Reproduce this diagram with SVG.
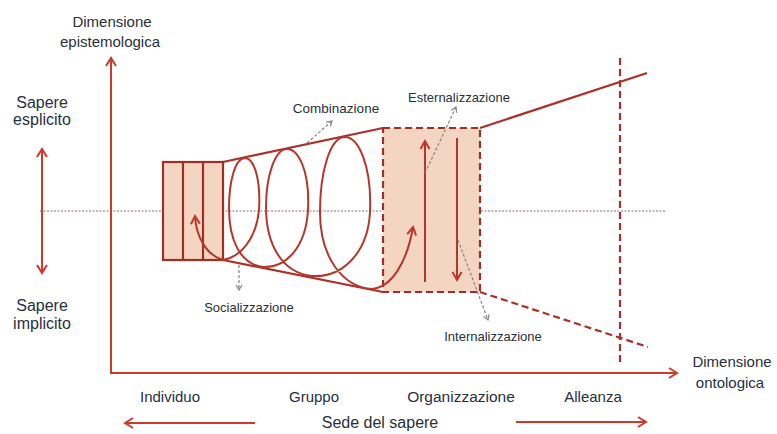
<svg xmlns="http://www.w3.org/2000/svg" width="777" height="434" viewBox="0 0 777 434">
<defs>
<marker id="chev" markerUnits="userSpaceOnUse" markerWidth="14" markerHeight="14" viewBox="0 0 14 14" refX="11" refY="7" orient="auto-start-reverse">
<path d="M3,2 L11,7 L3,12" fill="none" stroke="#cc3b2a" stroke-width="2"/>
</marker>
<marker id="chevD" markerUnits="userSpaceOnUse" markerWidth="14" markerHeight="14" viewBox="0 0 14 14" refX="11" refY="7" orient="auto-start-reverse">
<path d="M3,2.5 L11,7 L3,11.5" fill="none" stroke="#c0392b" stroke-width="2"/>
</marker>
<marker id="gchev" markerUnits="userSpaceOnUse" markerWidth="10" markerHeight="10" viewBox="0 0 10 10" refX="8" refY="5" orient="auto">
<path d="M3,2 L8,5 L3,8" fill="none" stroke="#8a8088" stroke-width="1.2"/>
</marker>
</defs>
<style>
text{font-family:"Liberation Sans",Arial,sans-serif;fill:#27303c}
.lbl{font-size:15px;text-anchor:middle}
.sm{font-size:13px;text-anchor:middle}
.axis{stroke:#cc3b2a;stroke-width:2;fill:none}
.box{fill:#f3d5c2;stroke:#9e2f26;stroke-width:2.2}
.dbox{fill:#f3d5c2;stroke:#9e2f26;stroke-width:2.2;stroke-dasharray:7 4}
.edge{stroke:#a8322a;stroke-width:2.2;fill:none}
.dedge{stroke:#a8322a;stroke-width:2.2;fill:none;stroke-dasharray:7 4}
.spiral{stroke:#b5372c;stroke-width:2;fill:none}
.call{stroke:#8a8088;stroke-width:1.2;fill:none;stroke-dasharray:3 2}
.dot{stroke:#8c6c78;stroke-width:1;stroke-dasharray:2 1.5;fill:none}
</style>
<rect width="777" height="434" fill="#ffffff"/>

<g id="midline"><line class="dot" x1="40" y1="211" x2="665" y2="211"/></g>

<g id="node-individuo">
<rect class="box" x="163" y="162" width="60" height="98"/>
<line class="box" x1="183" y1="162" x2="183" y2="260"/>
<line class="box" x1="203" y1="162" x2="203" y2="260"/>
</g>

<g id="node-organizzazione">
<rect class="dbox" x="383" y="128" width="97" height="164"/>
</g>

<g id="node-cone">
<line class="edge" x1="223" y1="162" x2="383" y2="128"/>
<line class="edge" x1="223" y1="260" x2="383" y2="292"/>
<line class="edge" x1="480" y1="128" x2="647" y2="73"/>
<line class="dedge" x1="480" y1="292" x2="648" y2="347"/>
<line class="dedge" x1="620" y1="58" x2="620" y2="362"/>
</g>

<g id="connectors">
<line class="axis" x1="111" y1="374" x2="111" y2="58" marker-end="url(#chev)"/>
<line class="axis" x1="111" y1="373" x2="677" y2="373" marker-end="url(#chev)"/>
<line class="axis" x1="42" y1="149" x2="42" y2="273" marker-start="url(#chev)" marker-end="url(#chev)"/>
<path class="spiral" marker-start="url(#chevD)" marker-end="url(#chevD)" d="M195,216 C196,236 206,255 223,260 C240,257 256,240 259,210 C261,176 253,158 245,158 C235,158 229,182 229,208 C229,240 240,264 263,267 C287,268 306,246 308,210 C310,170 298,149 287,149 C275,149 266,176 266,207 C266,246 283,273 312,276 C343,278 368,252 370,212 C372,165 358,137 345,137 C330,137 320,172 320,212 C320,258 343,287 372,289 C392,287 407,262 413,227"/>
<line class="spiral" x1="425" y1="282" x2="425" y2="141" marker-end="url(#chevD)"/>
<line class="spiral" x1="457" y1="138" x2="457" y2="280" marker-end="url(#chevD)"/>
<line class="call" x1="307" y1="143" x2="332" y2="121" marker-end="url(#gchev)"/>
<line class="call" x1="239" y1="265" x2="239" y2="290" marker-end="url(#gchev)"/>
<line class="call" x1="425" y1="173" x2="456" y2="107" marker-end="url(#gchev)"/>
<line class="call" x1="458" y1="240" x2="488" y2="320" marker-end="url(#gchev)"/>
<line class="axis" x1="255" y1="423" x2="125" y2="423" marker-end="url(#chev)"/>
<line class="axis" x1="516" y1="422" x2="646" y2="422" marker-end="url(#chev)"/>
</g>

<g id="labels">
<text class="lbl" x="112" y="27">Dimensione</text>
<text class="lbl" x="110" y="47">epistemologica</text>
<text class="lbl" x="42" y="108" style="font-size:16px">Sapere</text>
<text class="lbl" x="42" y="125" style="font-size:16px">esplicito</text>
<text class="lbl" x="42" y="311" style="font-size:16px">Sapere</text>
<text class="lbl" x="42" y="329" style="font-size:16px">implicito</text>
<text class="sm" x="336" y="113" style="font-size:13.5px">Combinazione</text>
<text class="sm" x="249" y="312">Socializzazione</text>
<text class="sm" x="459" y="102">Esternalizzazione</text>
<text class="sm" x="493" y="341">Internalizzazione</text>
<text class="lbl" x="732" y="367">Dimensione</text>
<text class="lbl" x="730" y="388">ontologica</text>
<text class="lbl" x="170" y="402">Individuo</text>
<text class="lbl" x="314" y="402">Gruppo</text>
<text class="lbl" x="461" y="402" style="font-size:15.5px">Organizzazione</text>
<text class="lbl" x="593" y="402">Alleanza</text>
<text class="lbl" x="380" y="428" style="font-size:16px">Sede del sapere</text>
</g>
</svg>
